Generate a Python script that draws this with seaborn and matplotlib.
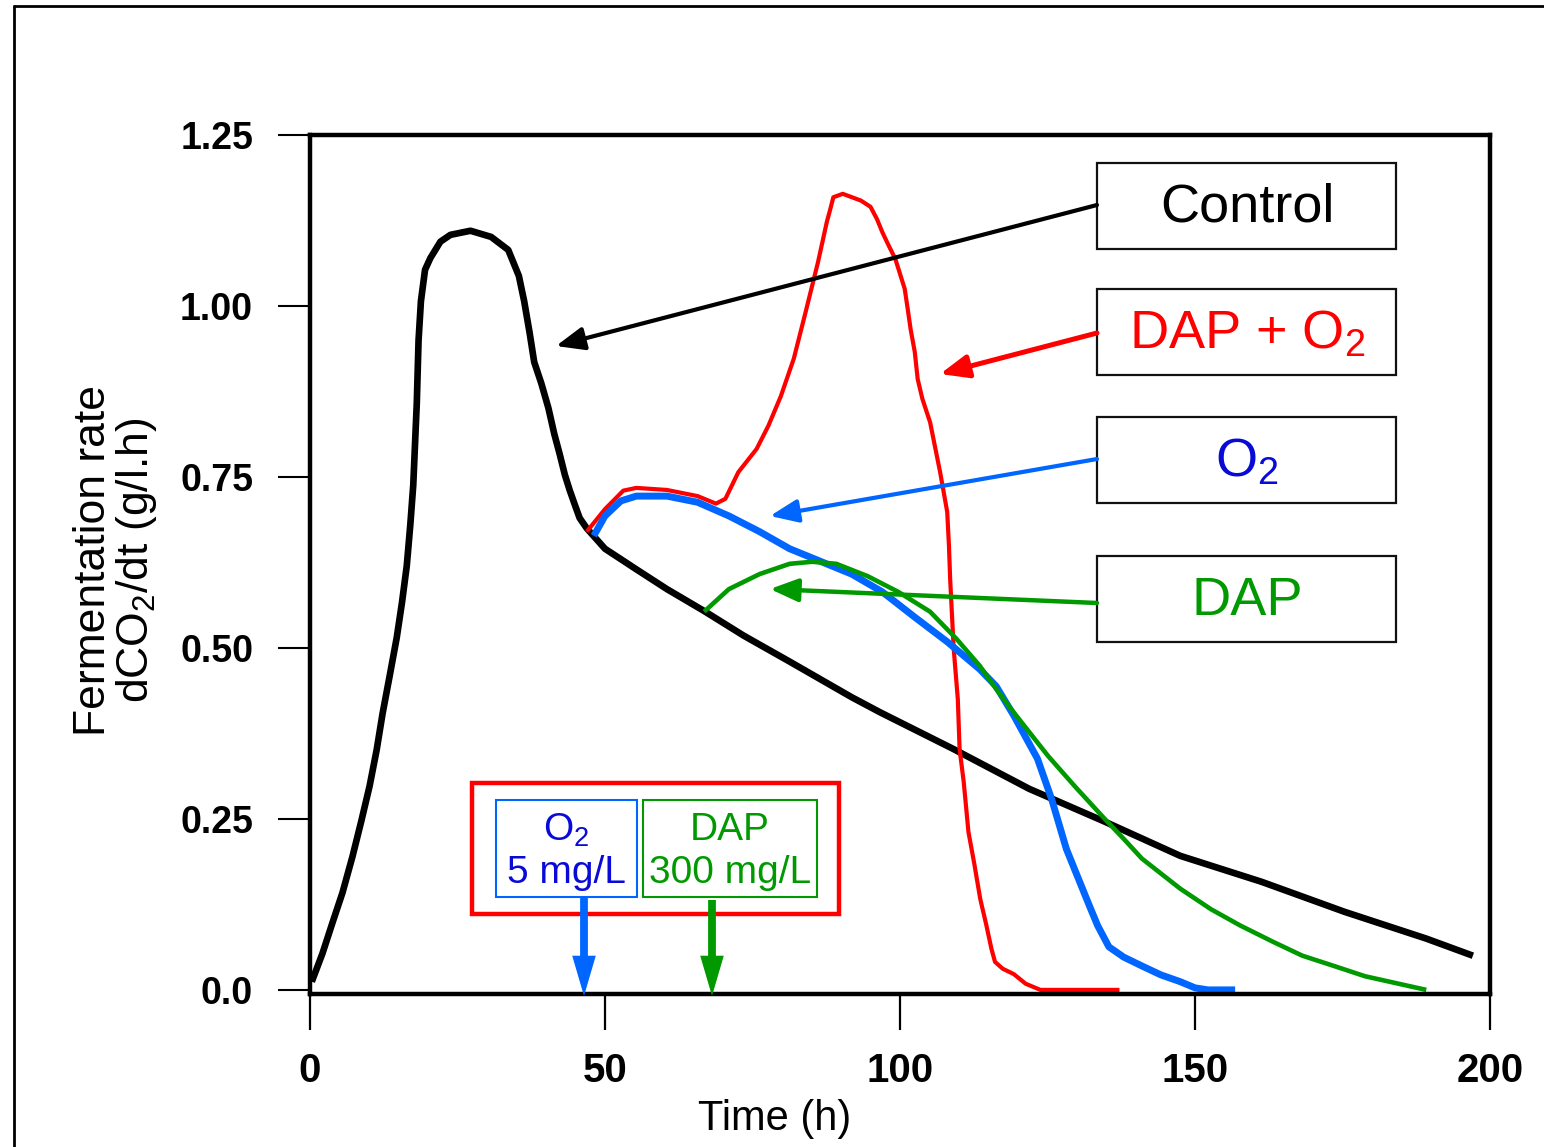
import numpy as np
import pandas as pd
import seaborn as sns
import matplotlib.pyplot as plt
from matplotlib.patches import Rectangle, FancyArrowPatch
from matplotlib.lines import Line2D

# data (time in h, rate in g/l.h)
control_t = [0.3, 2.1, 3.8, 5.5, 7.2, 8.7, 10.1, 11.3, 12.3, 13.5, 14.7, 15.6, 16.4, 17.0,
             17.5, 18.1, 18.4, 18.8, 19.5, 20.4, 22.1, 23.8, 27.2, 30.7, 33.6, 35.4, 36.3,
             37.2, 38.0, 39.2, 40.4, 41.4, 42.3, 43.2, 44.0, 44.9, 45.7, 46.9, 50.0, 55.3,
             60.5, 66.8, 73.5, 81.3, 91.8, 96.6, 109.1, 121.9, 134.7, 147.5, 161.3, 175.4,
             189.2, 197.1]
control_v = [0.012, 0.053, 0.098, 0.142, 0.195, 0.247, 0.298, 0.351, 0.404, 0.459, 0.515,
             0.567, 0.620, 0.680, 0.738, 0.858, 0.950, 1.007, 1.053, 1.070, 1.094, 1.104,
             1.110, 1.101, 1.082, 1.044, 1.007, 0.962, 0.918, 0.887, 0.851, 0.813, 0.784,
             0.753, 0.731, 0.709, 0.690, 0.675, 0.645, 0.615, 0.586, 0.554, 0.518, 0.480,
             0.428, 0.406, 0.352, 0.294, 0.246, 0.196, 0.158, 0.114, 0.075, 0.050]

dap_o2_t = [46.9, 50.0, 53.1, 55.3, 60.5, 65.7, 68.8, 70.4, 72.6, 75.7, 77.7, 79.8, 82.0,
            84.0, 86.1, 87.6, 88.2, 88.7, 90.3, 93.4, 95.0, 96.1, 97.0, 98.1, 99.2, 100.0,
            100.8, 101.3, 101.8, 102.5, 103.0, 103.8, 105.1, 106.8, 108.0, 108.3, 108.5,
            109.1, 109.8, 110.1, 110.8, 111.6, 112.6, 113.6, 114.6, 115.5, 116.1, 117.4,
            119.3, 121.3, 123.8, 137.2]
dap_o2_v = [0.670, 0.703, 0.730, 0.734, 0.731, 0.722, 0.711, 0.718, 0.757, 0.791, 0.825,
            0.868, 0.923, 0.991, 1.064, 1.123, 1.142, 1.159, 1.164, 1.154, 1.145, 1.127,
            1.108, 1.088, 1.069, 1.047, 1.025, 0.996, 0.966, 0.933, 0.893, 0.864, 0.830,
            0.757, 0.699, 0.649, 0.601, 0.499, 0.425, 0.352, 0.304, 0.231, 0.184, 0.133,
            0.096, 0.060, 0.041, 0.031, 0.023, 0.009, 0.0, 0.0]

o2_t = [48.1, 50.0, 52.7, 55.3, 60.5, 65.7, 71.0, 76.2, 81.3, 86.7, 91.8, 97.0, 102.5,
        108.0, 113.5, 116.3, 119.3, 123.3, 125.7, 128.2, 132.1, 133.5, 135.4, 137.9, 141.0,
        144.2, 147.5, 150.0, 152.2, 156.8]
o2_v = [0.664, 0.693, 0.715, 0.722, 0.722, 0.713, 0.693, 0.670, 0.645, 0.626, 0.608, 0.582,
        0.545, 0.509, 0.469, 0.444, 0.401, 0.338, 0.279, 0.206, 0.123, 0.094, 0.063, 0.048,
        0.035, 0.022, 0.012, 0.003, 0.0, 0.0]

dap_t = [66.8, 71.0, 76.2, 81.3, 85.1, 89.2, 94.5, 99.7, 105.1, 109.6, 113.5, 116.3, 118.8,
         121.9, 125.1, 129.6, 134.7, 137.9, 141.0, 147.5, 152.7, 157.7, 163.3, 168.2, 173.9,
         178.8, 189.2]
dap_v = [0.553, 0.586, 0.608, 0.623, 0.626, 0.623, 0.605, 0.582, 0.553, 0.513, 0.474, 0.440,
         0.411, 0.377, 0.342, 0.298, 0.250, 0.221, 0.192, 0.148, 0.118, 0.094, 0.070, 0.050,
         0.034, 0.020, 0.0]

x_ticks = [0, 50, 100, 150, 200]
y_ticks = [0.0, 0.25, 0.50, 0.75, 1.00, 1.25]
y_tick_labels = ["0.0", "0.25", "0.50", "0.75", "1.00", "1.25"]

RED = "#ff0000"
BLUE = "#0066ff"
BLUE_TXT = "#0a0ad8"
GREEN = "#009900"

sns.set_theme(style="white")
plt.rcParams["font.family"] = ["Liberation Sans", "DejaVu Sans"]
plt.rcParams["mathtext.default"] = "regular"
plt.rcParams["text.color"] = "black"
plt.rcParams["axes.labelcolor"] = "black"

W, H = 1544, 1147
fig = plt.figure(figsize=(W / 100, H / 100), dpi=100)
ax = fig.add_axes([310 / W, (H - 994) / H, 1180 / W, (994 - 135) / H])


def fp(x, y):
    # image pixel -> figure fraction
    return (x / W, 1 - y / H)


curves = [
    (control_t, control_v, "black", 4.8),
    (dap_o2_t, dap_o2_v, RED, 3.0),
    (o2_t, o2_v, BLUE, 5.0),
    (dap_t, dap_v, GREEN, 3.3),
]
for t, v, c, lw in curves:
    df = pd.DataFrame({"t": t, "v": v})
    sns.lineplot(data=df, x="t", y="v", color=c, lw=lw, estimator=None, ax=ax,
                 solid_capstyle="butt", solid_joinstyle="round")

ax.set_xlim(0, 200)
ax.set_ylim(-0.006, 1.25)
ax.set_xticks(x_ticks)
ax.set_xticklabels([str(x) for x in x_ticks], fontsize=29, fontweight="bold")
ax.set_yticks(y_ticks)
ax.set_yticklabels(y_tick_labels, fontsize=27, fontweight="bold")
ax.tick_params(axis="y", direction="out", length=23, width=1.5, pad=18, left=True, colors="black")
ax.tick_params(axis="x", direction="out", length=26, width=1.6, pad=16, bottom=True, colors="black")
for s in ax.spines.values():
    s.set_color("black")
    s.set_linewidth(3.2)

ax.set_xlabel("Time (h)", fontsize=30, color="black")
ax.xaxis.set_label_coords((775 - 310) / 1180, -0.122)
ax.set_ylabel("")
fig.text(*fp(116, 560), "Fermentation rate\ndCO$_2$/dt (g/l.h)", rotation=90,
         ha="center", va="center", fontsize=32, linespacing=1.0, color="black")

# outer frame (cropped at right and bottom)
fig.add_artist(Line2D([14 / W, 14 / W], [0, 1 - 6 / H], transform=fig.transFigure,
                      color="black", lw=2))
fig.add_artist(Line2D([14 / W, 1], [1 - 6 / H, 1 - 6 / H], transform=fig.transFigure,
                      color="black", lw=2))


def box(x0, y0, x1, y1, ec, lw):
    fig.add_artist(Rectangle(fp(x0, y1), (x1 - x0) / W, (y1 - y0) / H,
                             transform=fig.transFigure, fill=False, ec=ec, lw=lw))


def arrow(p0, p1, c, lw, style):
    fig.add_artist(FancyArrowPatch(fp(*p0), fp(*p1), transform=fig.transFigure,
                                   arrowstyle=style, color=c, lw=lw, mutation_scale=20,
                                   shrinkA=0, shrinkB=0))


# legend boxes on the right
labels = [("Control", "black", 163, 249), ("DAP + O$_2$", RED, 289, 375),
          ("O$_2$", BLUE_TXT, 417, 503), ("DAP", GREEN, 556, 642)]
for txt, c, y0, y1 in labels:
    box(1097, y0, 1396, y1, "#111111", 1.6)
    fig.text(*fp(1247, (y0 + y1) / 2 + 2), txt, color=c, fontsize=39, ha="center", va="center")

head = "-|>,head_length=0.85,head_width=0.35"
arrow((1097, 205), (556, 346), "black", 3.0, head)
arrow((1097, 333), (940, 374), RED, 3.6, head)
arrow((1097, 459), (770, 516), BLUE, 3.0, head)
arrow((1097, 603), (770, 589), GREEN, 3.2, head)

# addition box at the bottom
box(472, 783, 839, 914, RED, 3.2)
box(496, 800, 637, 897, BLUE, 1.5)
box(643, 800, 817, 897, GREEN, 1.5)
fig.text(*fp(566, 830), "O$_2$", color=BLUE_TXT, fontsize=28, ha="center", va="center")
fig.text(*fp(566, 873), "5 mg/L", color=BLUE_TXT, fontsize=28, ha="center", va="center")
fig.text(*fp(730, 830), "DAP", color=GREEN, fontsize=28, ha="center", va="center")
fig.text(*fp(730, 873), "300 mg/L", color=GREEN, fontsize=28, ha="center", va="center")

down = "simple,head_length=1.45,head_width=0.85,tail_width=0.28"
arrow((584, 897), (584, 996), BLUE, 0, down)
arrow((712, 900), (712, 996), GREEN, 0, down)

fig.savefig("out.png", dpi=100)
